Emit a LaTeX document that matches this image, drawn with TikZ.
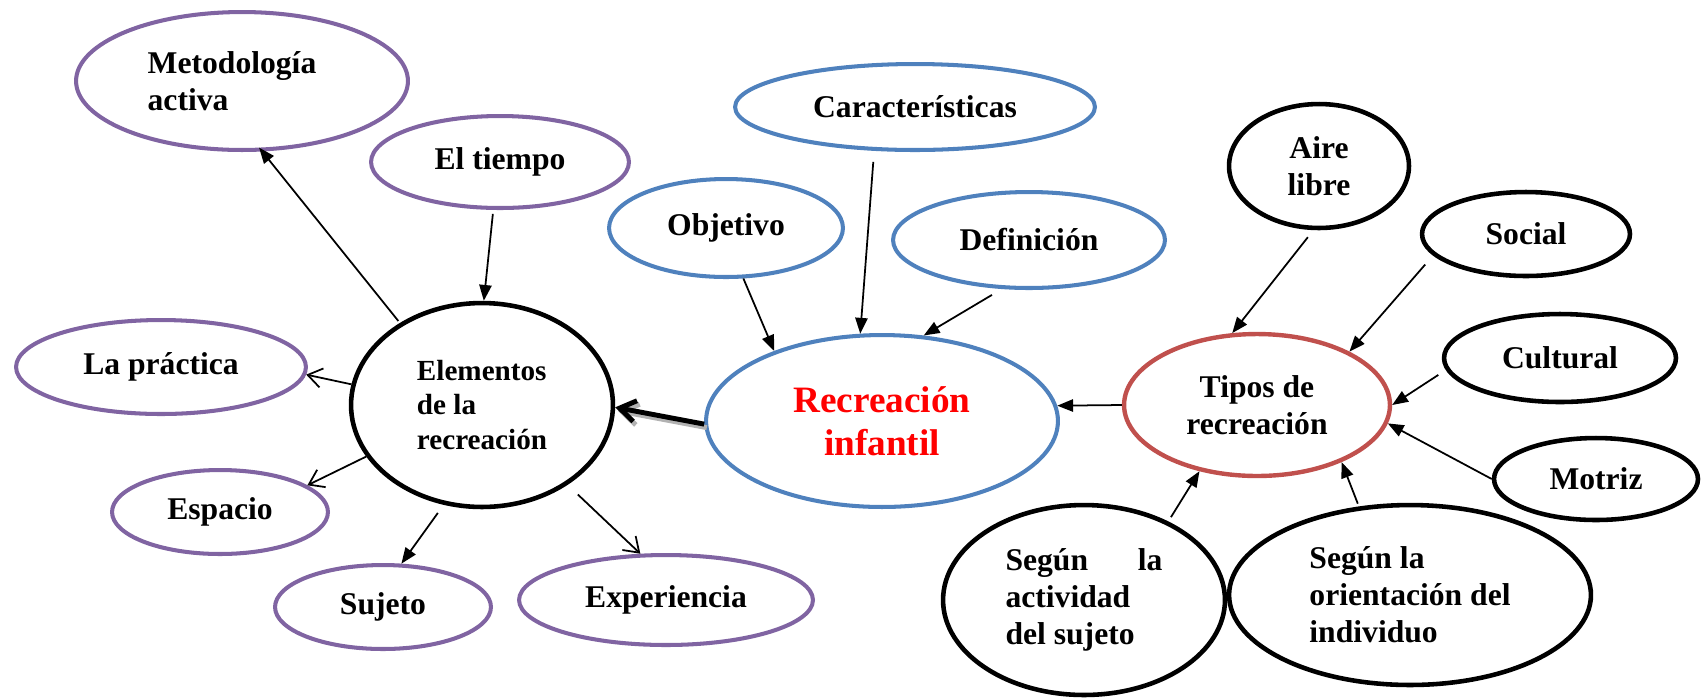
\documentclass[tikz,border=0pt]{standalone}
\usepackage{fontspec}
\setmainfont{Liberation Serif}
\usetikzlibrary{shapes.geometric,arrows.meta}
\definecolor{purp}{HTML}{8064A2}
\definecolor{blu}{HTML}{4F81BD}
\definecolor{redb}{HTML}{C0504D}
\begin{document}
\begin{tikzpicture}[x=0.02cm,y=-0.02cm,
  ell/.style 2 args={ellipse, inner sep=0pt, minimum width=#1*0.04cm-0.08cm, minimum height=#2*0.04cm-0.08cm, font=\bfseries\fontsize{18}{21}\selectfont, align=center},
  pu/.style={draw=purp, line width=2.3pt},
  bl/.style={draw=blu, line width=2.3pt},
  rd/.style={draw=redb, line width=2.5pt},
  bk/.style={draw=black, line width=2.6pt},
  fa/.style={line width=1pt, -{Triangle[length=9pt,width=7pt]}},
  oa/.style={line width=1pt, -{Straight Barb[length=8pt,width=11pt]}},
  thick arrow/.style={line width=2.8pt, -{Straight Barb[length=9pt,width=12pt]}},
]
\useasboundingbox (0,0) rectangle (1702,698);

% left group (purple)
\node[ell={168}{71}, pu, align=left] (met) at (242,81) {Metodología\hspace*{0.4cm}\\activa};
\node[ell={131}{48}, pu] (tie) at (500,162) {El tiempo};
\node[ell={147}{49}, pu] (pra) at (161,367) {La práctica};
\node[ell={110}{44}, pu] (esp) at (220,512) {Espacio};
\node[ell={110}{44}, pu] (suj) at (383,607) {Sujeto};
\node[ell={149}{47}, pu] (exp) at (666,600) {Experiencia};
\node[ell={133}{104}, bk, align=left, font=\bfseries\fontsize{16.6}{19.4}\selectfont] (ele) at (482,405) {Elementos\\de la\\recreación};

% centre group (blue)
\node[ell={182}{45}, bl] (car) at (915,107) {Características};
\node[ell={119}{51}, bl] (obj) at (726,228) {Objetivo};
\node[ell={138}{50}, bl] (def) at (1029,240) {Definición};
\node[ell={178}{88}, bl, text=red, font=\bfseries\fontsize{21.2}{24.5}\selectfont] (rec) at (882,421) {Recreación\\infantil};

% right group
\node[ell={135}{73}, rd] (tip) at (1257,405) {Tipos de\\recreación};
\node[ell={92}{64}, bk] (air) at (1319,166) {Aire\\libre};
\node[ell={106}{44}, bk] (soc) at (1526,234) {Social};
\node[ell={118}{46}, bk] (cul) at (1560,358) {Cultural};
\node[ell={104}{43}, bk] (mot) at (1596,479) {Motriz};
\node[ell={143}{97}, bk, align=left] (sa) at (1084,600) {\makebox[3.14cm][s]{Según\hfill la}\\actividad\\del sujeto};
\node[ell={183}{92}, bk, align=left] (so) at (1410,595) {Según la\\orientación del\\individuo};

% connectors
\draw[fa, shorten <=0.05cm, shorten >=-0.1cm] (ele.135.7) -- (met.-74.7);
\draw[fa, shorten <=0.08cm] (tie.-98) -- (ele.89);
\draw[oa] (ele.171.4) -- (pra.-3);
\draw[oa] (ele.204.6) -- (esp.17.3);
\draw[fa, shorten <=0.2cm] (ele.-111) -- (suj.67.8);
\draw[oa, shorten <=0.28cm] (ele.-43) -- (exp.119);

\draw[thick arrow, black!30, transform canvas={shift={(1.5pt,-2pt)}}] (rec.181) -- (ele.-1);
\draw[thick arrow] (rec.181) -- (ele.-1);

\draw[fa] (obj.-71.2) -- (rec.147.4);
\draw[fa, shorten <=0.22cm] (car.-133) -- (rec.104);
\draw[fa, shorten <=0.23cm] (def.-119) -- (rec.64.5);
\draw[fa] (tip.180) -- (rec.5);

\draw[fa, shorten <=0.18cm] (air.-95.5) -- (tip.109.6);
\draw[fa, shorten <=0.24cm] (soc.-167) -- (tip.30.7);
\draw[fa, shorten <=0.18cm] (cul.-174) -- (tip.0);
\draw[fa] (mot.180) -- (tip.-8);
\draw[fa, shorten <=0.1cm] (sa.43.4) -- (tip.-131.6);
\draw[fa, shorten <=0.06cm] (so.120.4) -- (tip.-34.7);
\end{tikzpicture}
\end{document}
